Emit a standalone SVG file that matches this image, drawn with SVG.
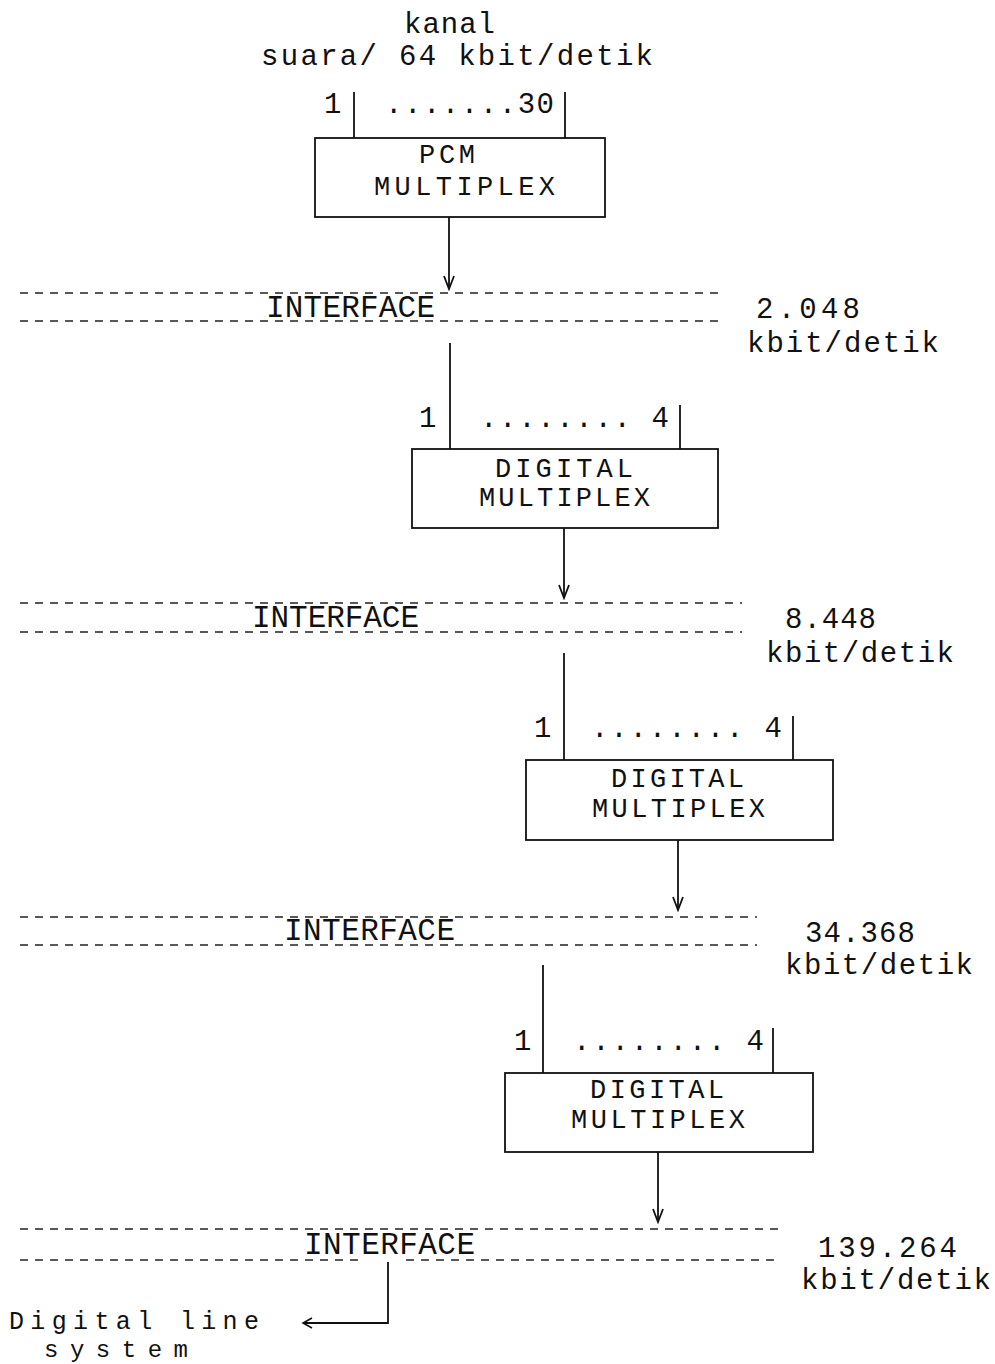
<svg xmlns="http://www.w3.org/2000/svg" width="995" height="1364" viewBox="0 0 995 1364">
<style>
  .t { font-family: "Liberation Mono", "Courier New", monospace; font-size: 29px; fill: #111; }
  .b { font-family: "Liberation Mono", "Courier New", monospace; font-size: 27px; fill: #111; }
  .i { font-family: "Liberation Mono", "Courier New", monospace; font-size: 31px; fill: #111; }
  .s { font-family: "Liberation Mono", "Courier New", monospace; font-size: 25px; fill: #111; }
  .box { fill: #fff; stroke: #111; stroke-width: 1.8; }
  .ln { fill: none; stroke: #111; stroke-width: 1.8; }
  .dash { fill: none; stroke: #222; stroke-width: 1.6; stroke-dasharray: 8 7; }
</style>
<defs>
  <marker id="arr" markerUnits="userSpaceOnUse" viewBox="-15 -8 17 16" markerWidth="17" markerHeight="16" refX="0" refY="0" orient="auto">
    <path d="M-13,-5 L0,0 L-13,5" fill="none" stroke="#111" stroke-width="1.8"/>
  </marker>
  <marker id="lt" markerUnits="userSpaceOnUse" viewBox="-11 -7 13 14" markerWidth="13" markerHeight="14" refX="0" refY="0" orient="auto">
    <path d="M-9,-5 L0,0 L-9,5" fill="none" stroke="#111" stroke-width="1.5"/>
  </marker>
</defs>
<rect width="995" height="1364" fill="#fff"/>

<g id="title">
  <text class="t" x="404" y="33" textLength="91">kanal</text>
  <text class="t" x="261" y="65" textLength="392">suara/ 64 kbit/detik</text>
</g>

<g id="pcm-multiplex">
  <rect class="box" x="315" y="138" width="290" height="79"/>
  <text class="b" x="419" y="163" textLength="56">PCM</text>
  <text class="b" x="374" y="195" textLength="181">MULTIPLEX</text>
  <text class="t" x="324" y="113">1</text>
  <text class="t" x="385" y="113" textLength="169">.......30</text>
</g>

<g id="interface-1">
  <line class="dash" x1="20" y1="293" x2="725" y2="293"/>
  <line class="dash" x1="20" y1="321" x2="725" y2="321"/>
  <text class="i" x="266" y="317" textLength="169">INTERFACE</text>
  <text class="t" x="756" y="318" textLength="104">2.048</text>
  <text class="t" x="747" y="352" textLength="192">kbit/detik</text>
</g>

<g id="digital-multiplex-1">
  <rect class="box" x="412" y="449" width="306" height="79"/>
  <text class="b" x="495" y="477" textLength="138">DIGITAL</text>
  <text class="b" x="479" y="506" textLength="171">MULTIPLEX</text>
  <text class="t" x="419" y="427">1</text>
  <text class="t" x="480" y="427" textLength="189">........ 4</text>
</g>

<g id="interface-2">
  <line class="dash" x1="20" y1="603" x2="742" y2="603"/>
  <line class="dash" x1="20" y1="632" x2="742" y2="632"/>
  <text class="i" x="252" y="627" textLength="167">INTERFACE</text>
  <text class="t" x="785" y="628" textLength="91">8.448</text>
  <text class="t" x="766" y="662" textLength="188">kbit/detik</text>
</g>

<g id="digital-multiplex-2">
  <rect class="box" x="526" y="760" width="307" height="80"/>
  <text class="b" x="611" y="787" textLength="133">DIGITAL</text>
  <text class="b" x="592" y="817" textLength="173">MULTIPLEX</text>
  <text class="t" x="534" y="737">1</text>
  <text class="t" x="591" y="737" textLength="191">........ 4</text>
</g>

<g id="interface-3">
  <line class="dash" x1="20" y1="917" x2="757" y2="917"/>
  <line class="dash" x1="20" y1="945" x2="757" y2="945"/>
  <text class="i" x="284" y="940" textLength="171">INTERFACE</text>
  <text class="t" x="805" y="942" textLength="110">34.368</text>
  <text class="t" x="785" y="974" textLength="188">kbit/detik</text>
</g>

<g id="digital-multiplex-3">
  <rect class="box" x="505" y="1073" width="308" height="79"/>
  <text class="b" x="590" y="1098" textLength="134">DIGITAL</text>
  <text class="b" x="571" y="1128" textLength="174">MULTIPLEX</text>
  <text class="t" x="514" y="1050">1</text>
  <text class="t" x="573" y="1050" textLength="191">........ 4</text>
</g>

<g id="interface-4">
  <line class="dash" x1="20" y1="1229" x2="778" y2="1229"/>
  <line class="dash" x1="20" y1="1260" x2="362" y2="1260"/>
  <line class="dash" x1="406" y1="1260" x2="778" y2="1260"/>
  <text class="i" x="304" y="1254" textLength="171">INTERFACE</text>
  <text class="t" x="818" y="1257" textLength="139">139.264</text>
  <text class="t" x="801" y="1289" textLength="190">kbit/detik</text>
</g>

<g id="digital-line-system">
  <text class="s" x="9" y="1329" textLength="250">Digital line</text>
  <text class="s" x="44" y="1357" textLength="144" style="font-size:24px">system</text>
</g>

<g id="connectors">
  <line class="ln" x1="354" y1="92" x2="354" y2="138"/>
  <line class="ln" x1="565" y1="92" x2="565" y2="138"/>
  <line class="ln" x1="449" y1="217" x2="449" y2="289" marker-end="url(#arr)"/>
  <line class="ln" x1="450" y1="343" x2="450" y2="449"/>
  <line class="ln" x1="680" y1="405" x2="680" y2="449"/>
  <line class="ln" x1="564" y1="528" x2="564" y2="598" marker-end="url(#arr)"/>
  <line class="ln" x1="564" y1="653" x2="564" y2="760"/>
  <line class="ln" x1="793" y1="716" x2="793" y2="760"/>
  <line class="ln" x1="678" y1="840" x2="678" y2="910" marker-end="url(#arr)"/>
  <line class="ln" x1="543" y1="965" x2="543" y2="1073"/>
  <line class="ln" x1="773" y1="1028" x2="773" y2="1073"/>
  <line class="ln" x1="658" y1="1152" x2="658" y2="1222" marker-end="url(#arr)"/>
  <path class="ln" d="M388,1262 V1323 H303" marker-end="url(#lt)"/>
</g>
</svg>
